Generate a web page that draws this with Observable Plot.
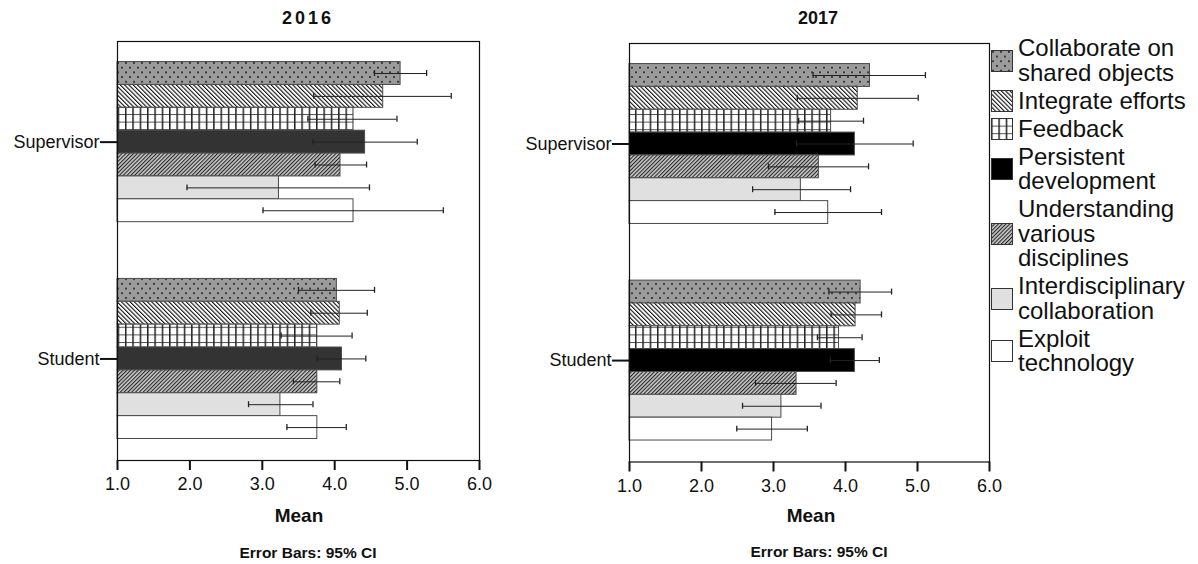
<!DOCTYPE html>
<html><head><meta charset="utf-8">
<script src="https://cdn.jsdelivr.net/npm/d3@7"></script>
<script src="https://cdn.jsdelivr.net/npm/@observablehq/plot@0.6"></script>
<style>
body{margin:0;background:#fff;}
#root{position:relative;width:1198px;height:564px;overflow:hidden;font-family:"Liberation Sans",Arial,sans-serif;color:#111;background:#fff;}
.abs{position:absolute;white-space:nowrap;}
.ctr{text-align:center;width:240px;font-weight:bold;}
#legend{position:absolute;left:990px;top:36px;}
.item{display:flex;align-items:center;margin-bottom:3.5px;}
.item svg{flex:none;margin-left:1px;}
.item .lab{margin-left:5px;font-size:24px;line-height:24.5px;color:#111;}
</style></head><body>
<svg width="0" height="0" style="position:absolute">
  <defs>
    <pattern id="p-dots" patternUnits="userSpaceOnUse" width="8" height="9.4">
      <rect width="8" height="9.4" fill="#9b9b9b"/>
      <rect x="1" y="1.2" width="2" height="1.3" fill="#111"/>
      <rect x="5" y="5.9" width="2" height="1.3" fill="#111"/>
    </pattern>
    <pattern id="p-back" patternUnits="userSpaceOnUse" width="3.05" height="10" patternTransform="rotate(-45)">
      <rect width="3.05" height="10" fill="#fff"/>
      <rect x="0" y="0" width="1.1" height="10" fill="#111"/>
    </pattern>
    <pattern id="p-grid" patternUnits="userSpaceOnUse" width="7.35" height="7.6">
      <rect width="7.35" height="7.6" fill="#fff"/>
      <rect x="0" y="0" width="7.35" height="1" fill="#555"/>
      <rect x="0" y="0" width="1.5" height="7.6" fill="#222"/>
    </pattern>
    <pattern id="p-fwd" patternUnits="userSpaceOnUse" width="2.7" height="10" patternTransform="rotate(45)">
      <rect width="2.7" height="10" fill="#c4c4c4"/>
      <rect x="0" y="0" width="1" height="10" fill="#222"/>
    </pattern>
  </defs>
</svg>
<div id="root"></div>
<script>
// ---- data ----
const categories = ["Collaborate on shared objects","Integrate efforts","Feedback","Persistent development","Understanding various disciplines","Interdisciplinary collaboration","Exploit technology"];
const legendLines = [["Collaborate on","shared objects"],["Integrate efforts"],["Feedback"],["Persistent","development"],["Understanding","various","disciplines"],["Interdisciplinary","collaboration"],["Exploit","technology"]];
const groups = ["Supervisor","Student"];
const years = ["2016","2017"];
const xTicks = [1,2,3,4,5,6];

const mean2016Supervisor = [4.91,4.67,4.26,4.42,4.08,3.23,4.26];
const low2016Supervisor  = [4.55,3.71,3.63,3.70,3.73,1.96,3.01];
const high2016Supervisor = [5.27,5.61,4.86,5.14,4.44,4.48,5.50];
const mean2016Student    = [4.03,4.07,3.76,4.10,3.76,3.25,3.76];
const low2016Student     = [3.50,3.67,3.26,3.76,3.43,2.81,3.34];
const high2016Student    = [4.55,4.45,4.24,4.43,4.07,3.70,4.16];

const mean2017Supervisor = [4.34,4.17,3.80,4.13,3.63,3.38,3.76];
const low2017Supervisor  = [3.55,3.33,3.35,3.32,2.93,2.71,3.02];
const high2017Supervisor = [5.11,5.01,4.25,4.94,4.32,4.07,4.50];
const mean2017Student    = [4.21,4.14,3.91,4.13,3.32,3.11,2.98];
const low2017Student     = [3.77,3.80,3.61,3.79,2.75,2.57,2.49];
const high2017Student    = [4.64,4.50,4.23,4.47,3.87,3.66,3.47];

const series = {
  "2016": {Supervisor:[mean2016Supervisor,low2016Supervisor,high2016Supervisor], Student:[mean2016Student,low2016Student,high2016Student]},
  "2017": {Supervisor:[mean2017Supervisor,low2017Supervisor,high2017Supervisor], Student:[mean2017Student,low2017Student,high2017Student]}
};

// ---- layout ----
const root = document.getElementById("root");
const groupStart = [0.9, 10.38];
const yMax = 18.32;
const panelCfg = {
  "2016": {left:0, marginLeft:117, marginRight:21, marginTop:41, marginBottom:40, height:500, dark:"#333", title:[308,18.5], mean:[299,516.5], cap:[308,553], spacing:"3px"},
  "2017": {left:510, marginLeft:119, marginRight:21, marginTop:43, marginBottom:38.5, height:500, dark:"#000", title:[818,18.5], mean:[811,516], cap:[819,552], spacing:"0px"}
};

function fills(dark){ return ["url(#p-dots)","url(#p-back)","url(#p-grid)",dark,"url(#p-fwd)","#e0e0e0","#ffffff"]; }

function addText(txt, cx, cy, size, extra){
  const d = document.createElement("div");
  d.className = "abs ctr";
  d.style.left = (cx-120)+"px";
  d.style.top = (cy-size*0.6)+"px";
  d.style.fontSize = size+"px";
  d.style.lineHeight = (size*1.2)+"px";
  if (extra) d.style.letterSpacing = extra;
  d.textContent = txt;
  root.appendChild(d);
}

for (const yr of years) {
  const cfg = panelCfg[yr];
  const rows = [];
  groups.forEach((g, gi) => {
    const [m, lo, hi] = series[yr][g];
    categories.forEach((c, ci) => {
      const y1 = groupStart[gi] + ci;
      rows.push({group:g, cat:c, mean:m[ci], lo:lo[ci], hi:hi[ci], y1, y2:y1+1, yc:y1+0.5});
    });
  });
  const plot = Plot.plot({
    width: 500, height: cfg.height,
    marginLeft: cfg.marginLeft, marginRight: cfg.marginRight, marginTop: cfg.marginTop, marginBottom: cfg.marginBottom,
    style: {fontFamily: '"Liberation Sans", Arial, sans-serif', fontSize: "18px", color: "#111", background: "transparent"},
    x: {domain: [1, 6]},
    y: {domain: [yMax, 0]},
    color: {type: "ordinal", domain: categories, range: fills(cfg.dark)},
    marks: [
      Plot.rect(rows, {x1: () => 1, x2: "mean", y1: "y1", y2: "y2", fill: "cat", stroke: "#4a4a4a", strokeWidth: 1}),
      Plot.ruleY(rows, {y: "yc", x1: "lo", x2: "hi", stroke: "#222", strokeWidth: 1}),
      Plot.ruleX(rows, {x: "lo", y1: d => d.yc - 0.13, y2: d => d.yc + 0.13, stroke: "#222", strokeWidth: 1.3}),
      Plot.ruleX(rows, {x: "hi", y1: d => d.yc - 0.13, y2: d => d.yc + 0.13, stroke: "#222", strokeWidth: 1.3}),
      Plot.frame({stroke: "#111", strokeWidth: 1.2}),
      Plot.axisX({ticks: xTicks, tickFormat: d3.format(".1f"), tickSize: 10, tickPadding: 7, strokeWidth: 2, label: null}),
      Plot.axisY({ticks: groupStart.map(s => s + 3.5), tickFormat: (d, i) => groups[i], tickSize: 17, tickPadding: 1, strokeWidth: 2, label: null})
    ]
  });
  plot.style.position = "absolute";
  plot.style.left = cfg.left + "px";
  plot.style.top = "0px";
  root.appendChild(plot);
  addText(yr, cfg.title[0], cfg.title[1], 18, cfg.spacing);
  addText("Mean", cfg.mean[0], cfg.mean[1], 19);
  addText("Error Bars: 95% CI", cfg.cap[0], cfg.cap[1], 15.5);
}

// ---- legend ----
const legendFills = fills("#000");
const leg = document.createElement("div");
leg.id = "legend";
categories.forEach((c, i) => {
  const it = document.createElement("div");
  it.className = "item";
  it.innerHTML = `<svg width="22" height="22"><rect x="0.5" y="0.5" width="21" height="21" fill="${legendFills[i]}" stroke="#333" stroke-width="1"/></svg>`;
  const lab = document.createElement("div");
  lab.className = "lab";
  lab.innerHTML = legendLines[i].join("<br>");
  it.appendChild(lab);
  leg.appendChild(it);
});
root.appendChild(leg);
</script>
</body></html>
